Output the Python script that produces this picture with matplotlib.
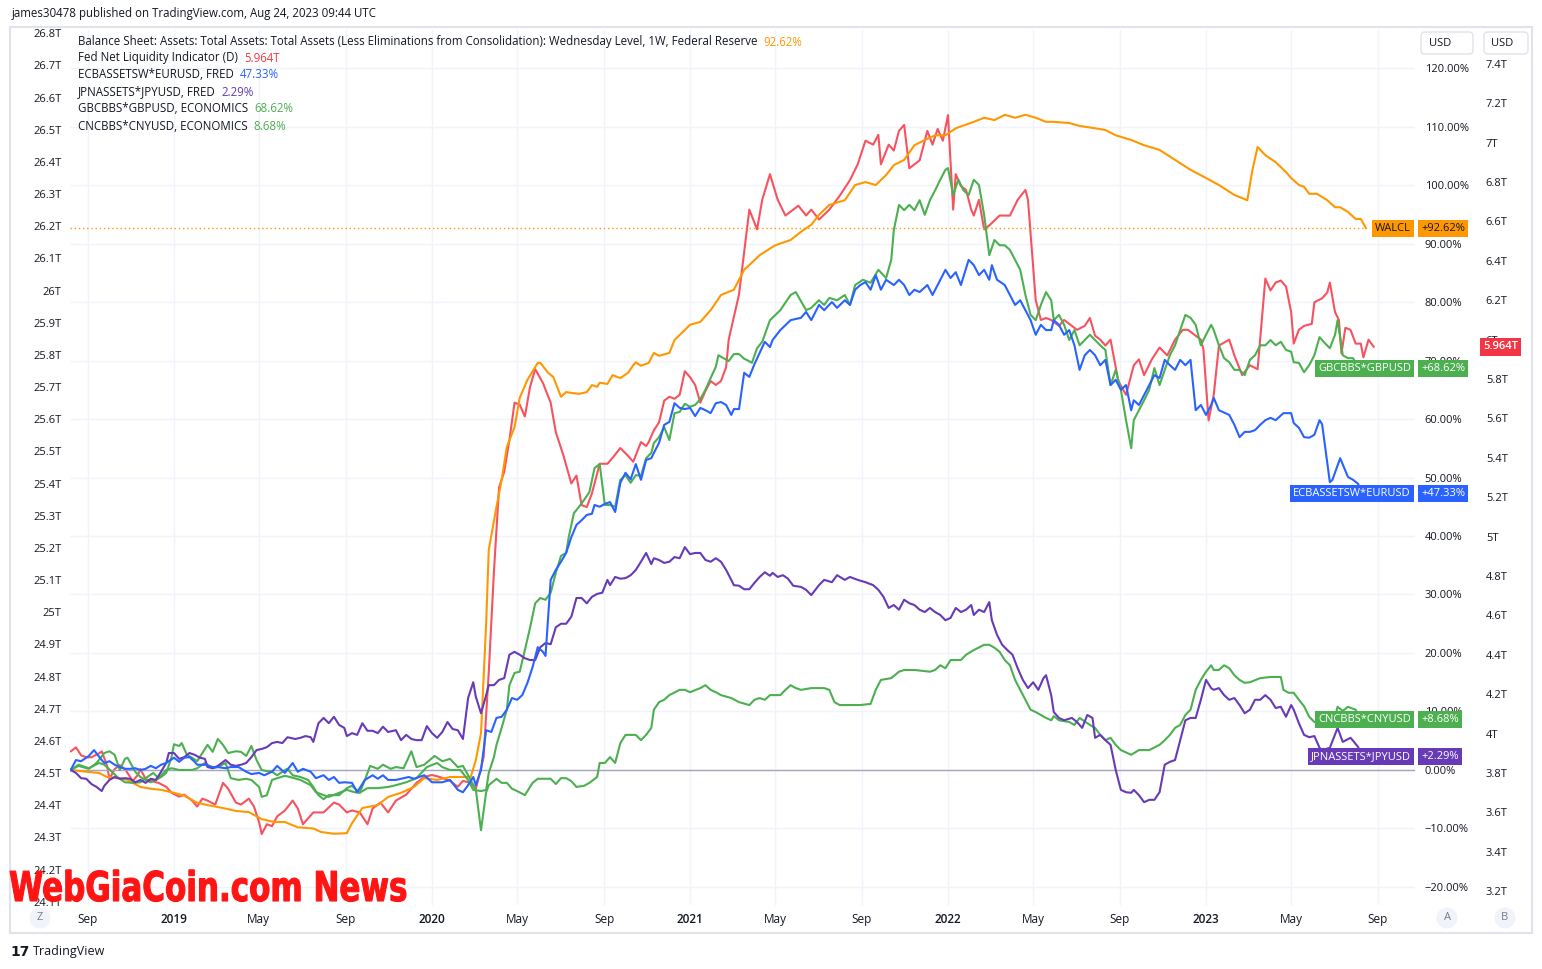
import matplotlib
matplotlib.use("Agg")
import matplotlib.pyplot as plt
import matplotlib.transforms as mtransforms
from matplotlib.patches import Rectangle, FancyBboxPatch, PathPatch
from matplotlib.textpath import TextPath
from matplotlib.font_manager import FontProperties
import numpy as np

plt.rcParams['font.family'] = ['Open Sans', 'DejaVu Sans']
plt.rcParams['axes.unicode_minus'] = True

# ---- data (decimal year, value) ----
# WALCL, % change
walcl = [(2018.60, 0.0), (2018.66, -0.3), (2018.71, -0.5), (2018.74, -1.2), (2018.79, -1.4), (2018.82, -1.7),
         (2018.87, -2.9), (2018.91, -3.2), (2018.95, -3.4), (2019.00, -3.9), (2019.04, -4.4), (2019.09, -5.6),
         (2019.13, -6.0), (2019.19, -6.5), (2019.24, -7.0), (2019.29, -7.2), (2019.34, -8.4), (2019.39, -8.9),
         (2019.43, -8.9), (2019.48, -9.8), (2019.54, -10.0), (2019.57, -10.6), (2019.62, -10.9), (2019.67, -10.8),
         (2019.69, -9.1), (2019.73, -6.5), (2019.79, -6.0), (2019.83, -4.6), (2019.88, -3.9), (2019.93, -2.9),
         (2019.97, -1.4), (2020.02, -1.7), (2020.07, -1.2), (2020.11, -1.2), (2020.15, -1.2), (2020.17, 1.7),
         (2020.19, 6.3), (2020.21, 25.1), (2020.22, 37.6), (2020.25, 45.0), (2020.27, 49.6), (2020.29, 55.2),
         (2020.32, 58.6), (2020.34, 63.6), (2020.37, 66.7), (2020.41, 69.6), (2020.42, 69.6), (2020.45, 67.9),
         (2020.47, 67.2), (2020.50, 63.8), (2020.52, 64.6), (2020.55, 64.4), (2020.57, 64.3), (2020.60, 64.6),
         (2020.62, 65.8), (2020.64, 65.5), (2020.65, 66.2), (2020.68, 66.0), (2020.70, 67.5), (2020.73, 67.0),
         (2020.76, 67.9), (2020.78, 69.2), (2020.79, 69.7), (2020.81, 69.1), (2020.84, 69.6), (2020.86, 71.3),
         (2020.88, 70.8), (2020.92, 71.3), (2020.94, 73.5), (2021.00, 76.1), (2021.04, 76.6), (2021.08, 78.6),
         (2021.12, 81.2), (2021.17, 82.1), (2021.21, 85.5), (2021.27, 88.0), (2021.33, 89.7), (2021.39, 90.6),
         (2021.43, 92.0), (2021.47, 93.2), (2021.50, 94.9), (2021.54, 96.6), (2021.60, 97.4), (2021.64, 100.0),
         (2021.68, 100.5), (2021.72, 100.0), (2021.76, 101.7), (2021.79, 103.4), (2021.83, 104.3), (2021.87, 106.8),
         (2021.91, 107.7), (2021.95, 108.5), (2021.99, 108.5), (2022.03, 109.7), (2022.10, 110.8), (2022.14, 111.5),
         (2022.18, 111.1), (2022.22, 112.0), (2022.26, 111.5), (2022.30, 112.0), (2022.34, 111.5), (2022.38, 110.8),
         (2022.41, 110.8), (2022.47, 110.6), (2022.51, 110.1), (2022.57, 109.7), (2022.61, 109.4), (2022.65, 108.5),
         (2022.71, 107.7), (2022.76, 106.8), (2022.82, 106.0), (2022.88, 104.3), (2022.94, 102.6), (2023.00, 101.2),
         (2023.05, 100.0), (2023.11, 98.3), (2023.16, 97.4), (2023.18, 102.6), (2023.20, 106.5), (2023.23, 105.1),
         (2023.27, 103.9), (2023.31, 102.2), (2023.33, 101.2), (2023.36, 100.0), (2023.38, 99.7), (2023.40, 98.5),
         (2023.43, 98.5), (2023.47, 97.4), (2023.50, 96.2), (2023.52, 96.2), (2023.55, 95.4), (2023.58, 94.2),
         (2023.60, 94.2), (2023.62, 92.62)]

# Fed net liquidity, trillions USD
net_liq = [(2018.60, 3.91), (2018.62, 3.93), (2018.64, 3.89), (2018.66, 3.88), (2018.68, 3.88), (2018.71, 3.90),
           (2018.72, 3.91), (2018.74, 3.84), (2018.75, 3.77), (2018.77, 3.82), (2018.79, 3.84), (2018.81, 3.82),
           (2018.84, 3.76), (2018.86, 3.79), (2018.87, 3.82), (2018.89, 3.77), (2018.91, 3.76), (2018.94, 3.75),
           (2018.97, 3.73), (2018.99, 3.70), (2019.02, 3.68), (2019.04, 3.69), (2019.07, 3.66), (2019.09, 3.63),
           (2019.11, 3.67), (2019.13, 3.66), (2019.16, 3.64), (2019.19, 3.75), (2019.21, 3.72), (2019.24, 3.65),
           (2019.26, 3.64), (2019.29, 3.67), (2019.31, 3.63), (2019.33, 3.55), (2019.34, 3.49), (2019.36, 3.54),
           (2019.38, 3.53), (2019.40, 3.58), (2019.43, 3.61), (2019.46, 3.66), (2019.48, 3.62), (2019.50, 3.54),
           (2019.54, 3.60), (2019.58, 3.60), (2019.62, 3.65), (2019.64, 3.64), (2019.67, 3.60), (2019.69, 3.61),
           (2019.72, 3.60), (2019.75, 3.54), (2019.77, 3.62), (2019.80, 3.65), (2019.83, 3.60), (2019.86, 3.66),
           (2019.90, 3.69), (2019.94, 3.75), (2019.97, 3.78), (2020.00, 3.79), (2020.03, 3.78), (2020.07, 3.76),
           (2020.10, 3.73), (2020.12, 3.76), (2020.15, 3.75), (2020.17, 3.72), (2020.20, 3.88), (2020.22, 4.31),
           (2020.24, 4.82), (2020.26, 5.25), (2020.28, 5.33), (2020.30, 5.49), (2020.32, 5.68), (2020.34, 5.67),
           (2020.36, 5.61), (2020.38, 5.76), (2020.40, 5.85), (2020.43, 5.78), (2020.46, 5.68), (2020.48, 5.53),
           (2020.51, 5.41), (2020.54, 5.27), (2020.56, 5.31), (2020.58, 5.16), (2020.60, 5.15), (2020.62, 5.22),
           (2020.65, 5.37), (2020.68, 5.37), (2020.70, 5.40), (2020.73, 5.45), (2020.76, 5.41), (2020.78, 5.38),
           (2020.81, 5.48), (2020.83, 5.46), (2020.84, 5.48), (2020.86, 5.54), (2020.88, 5.58), (2020.90, 5.69),
           (2020.92, 5.71), (2020.94, 5.70), (2020.96, 5.72), (2020.98, 5.84), (2021.00, 5.81), (2021.02, 5.77),
           (2021.04, 5.68), (2021.06, 5.74), (2021.08, 5.79), (2021.10, 5.77), (2021.12, 5.79), (2021.14, 5.86),
           (2021.15, 6.00), (2021.19, 6.23), (2021.23, 6.66), (2021.26, 6.56), (2021.28, 6.71), (2021.31, 6.84),
           (2021.34, 6.71), (2021.37, 6.63), (2021.40, 6.66), (2021.42, 6.68), (2021.45, 6.63), (2021.47, 6.66),
           (2021.50, 6.61), (2021.54, 6.66), (2021.58, 6.73), (2021.62, 6.81), (2021.65, 6.89), (2021.68, 7.01),
           (2021.71, 6.99), (2021.73, 7.04), (2021.74, 6.89), (2021.77, 6.99), (2021.79, 6.96), (2021.81, 7.06),
           (2021.83, 7.09), (2021.85, 6.87), (2021.87, 6.89), (2021.89, 6.91), (2021.92, 7.06), (2021.94, 6.99),
           (2021.96, 7.07), (2021.98, 7.01), (2022.00, 7.14), (2022.02, 6.66), (2022.03, 6.84), (2022.05, 6.78),
           (2022.07, 6.76), (2022.09, 6.66), (2022.10, 6.63), (2022.12, 6.71), (2022.14, 6.56), (2022.16, 6.58),
           (2022.20, 6.63), (2022.24, 6.63), (2022.27, 6.71), (2022.30, 6.76), (2022.31, 6.71), (2022.34, 6.20),
           (2022.36, 6.10), (2022.38, 6.11), (2022.40, 6.10), (2022.43, 6.07), (2022.45, 6.10), (2022.48, 6.07),
           (2022.50, 6.05), (2022.53, 6.07), (2022.55, 6.11), (2022.57, 6.02), (2022.59, 6.00), (2022.61, 5.97),
           (2022.63, 6.00), (2022.66, 5.79), (2022.69, 5.72), (2022.71, 5.82), (2022.72, 5.87), (2022.74, 5.90),
           (2022.76, 5.82), (2022.79, 5.90), (2022.82, 5.96), (2022.85, 5.92), (2022.88, 6.00), (2022.91, 6.05),
           (2022.93, 6.05), (2022.96, 6.02), (2022.98, 6.00), (2022.99, 5.95), (2023.01, 5.59), (2023.03, 5.72),
           (2023.05, 5.97), (2023.09, 6.00), (2023.11, 5.92), (2023.14, 5.82), (2023.17, 5.87), (2023.20, 5.85),
           (2023.23, 6.31), (2023.25, 6.25), (2023.27, 6.29), (2023.29, 6.30), (2023.31, 6.27), (2023.33, 6.14),
           (2023.34, 5.98), (2023.36, 6.05), (2023.38, 6.07), (2023.41, 6.08), (2023.42, 6.19), (2023.45, 6.21),
           (2023.47, 6.24), (2023.48, 6.29), (2023.50, 6.14), (2023.515, 6.10), (2023.525, 5.93), (2023.54, 6.06),
           (2023.56, 6.05), (2023.58, 5.98), (2023.60, 5.98), (2023.61, 5.91), (2023.63, 6.00), (2023.65, 5.964)]

# ECBASSETSW*EURUSD, % change
ecb = [(2018.60, 0.0), (2018.62, 1.7), (2018.64, 1.5), (2018.67, 2.4), (2018.69, 3.4), (2018.72, 1.7), (2018.73, 1.2),
       (2018.75, 1.5), (2018.77, 0.9), (2018.79, 0.5), (2018.81, 0.2), (2018.83, 0.2), (2018.85, 0.3), (2018.87, 0.0),
       (2018.89, 0.2), (2018.91, 0.7), (2018.93, 0.3), (2018.95, 0.9), (2018.97, 1.2), (2018.98, 1.5), (2019.00, 2.1),
       (2019.02, 1.4), (2019.04, 2.1), (2019.06, 2.2), (2019.08, 1.4), (2019.09, 0.9), (2019.12, 0.9), (2019.15, 0.5),
       (2019.17, 0.5), (2019.20, 0.3), (2019.22, 0.5), (2019.25, 0.5), (2019.28, -0.3), (2019.30, -0.7), (2019.33, -0.5),
       (2019.35, -0.9), (2019.38, -0.3), (2019.40, 0.7), (2019.43, -0.5), (2019.46, 1.2), (2019.48, -0.3), (2019.50, 0.2),
       (2019.53, -0.3), (2019.55, -1.4), (2019.58, -0.9), (2019.60, -1.7), (2019.62, -1.2), (2019.64, -2.2),
       (2019.66, -2.1), (2019.69, -2.2), (2019.71, -3.8), (2019.74, -1.7), (2019.77, -0.9), (2019.79, -1.5),
       (2019.81, -0.9), (2019.83, -1.7), (2019.86, -1.7), (2019.88, -1.5), (2019.91, -1.2), (2019.93, -1.5),
       (2019.95, -1.2), (2019.97, -0.9), (2020.00, -2.1), (2020.04, -2.1), (2020.07, -1.7), (2020.10, -3.4),
       (2020.12, -3.8), (2020.14, -2.6), (2020.16, -1.2), (2020.17, -2.6), (2020.19, 0.0), (2020.21, 6.8),
       (2020.23, 6.5), (2020.25, 8.9), (2020.27, 9.1), (2020.29, 10.3), (2020.31, 12.3), (2020.33, 12.0),
       (2020.35, 12.8), (2020.37, 14.9), (2020.39, 17.6), (2020.41, 21.0), (2020.43, 20.2), (2020.44, 19.5),
       (2020.46, 32.5), (2020.48, 34.2), (2020.50, 35.6), (2020.52, 37.1), (2020.54, 39.8), (2020.56, 41.9),
       (2020.58, 42.7), (2020.60, 43.6), (2020.62, 43.8), (2020.63, 45.3), (2020.65, 45.0), (2020.67, 45.5),
       (2020.69, 45.8), (2020.71, 44.1), (2020.73, 49.1), (2020.75, 50.8), (2020.77, 49.7), (2020.79, 52.3),
       (2020.81, 49.6), (2020.83, 53.0), (2020.85, 53.3), (2020.86, 54.2), (2020.88, 55.9), (2020.90, 59.0),
       (2020.92, 59.5), (2020.94, 62.7), (2020.96, 61.9), (2020.98, 61.7), (2021.00, 61.9), (2021.02, 60.5),
       (2021.04, 61.9), (2021.06, 61.5), (2021.08, 61.0), (2021.10, 62.7), (2021.12, 62.9), (2021.14, 62.4),
       (2021.16, 60.7), (2021.17, 61.7), (2021.19, 61.7), (2021.21, 67.9), (2021.23, 67.2), (2021.25, 69.4),
       (2021.27, 71.3), (2021.29, 73.2), (2021.31, 72.3), (2021.32, 73.5), (2021.35, 75.2), (2021.39, 76.9),
       (2021.43, 77.3), (2021.45, 78.3), (2021.47, 76.9), (2021.50, 79.5), (2021.52, 78.6), (2021.55, 80.0),
       (2021.57, 79.0), (2021.60, 80.3), (2021.62, 79.5), (2021.64, 82.1), (2021.66, 82.9), (2021.68, 83.4),
       (2021.70, 82.1), (2021.72, 84.6), (2021.74, 82.1), (2021.76, 83.8), (2021.79, 82.9), (2021.81, 83.8),
       (2021.83, 82.9), (2021.85, 81.2), (2021.87, 82.1), (2021.89, 81.7), (2021.92, 82.9), (2021.94, 81.2),
       (2021.97, 83.8), (2021.99, 85.5), (2022.01, 84.1), (2022.03, 85.1), (2022.05, 82.9), (2022.08, 87.2),
       (2022.10, 86.3), (2022.12, 84.6), (2022.14, 85.5), (2022.16, 83.8), (2022.17, 86.3), (2022.19, 83.8),
       (2022.22, 82.9), (2022.24, 81.2), (2022.26, 79.5), (2022.28, 80.3), (2022.30, 78.6), (2022.32, 76.9),
       (2022.34, 74.4), (2022.36, 76.1), (2022.38, 75.2), (2022.40, 75.2), (2022.41, 76.9), (2022.43, 76.1),
       (2022.45, 74.4), (2022.47, 75.2), (2022.49, 72.6), (2022.51, 68.4), (2022.53, 70.9), (2022.55, 71.8),
       (2022.57, 70.9), (2022.59, 69.2), (2022.61, 70.1), (2022.63, 65.8), (2022.65, 66.7), (2022.67, 65.0),
       (2022.69, 65.8), (2022.71, 61.5), (2022.72, 63.2), (2022.74, 62.4), (2022.76, 64.1), (2022.78, 65.8),
       (2022.80, 67.5), (2022.82, 67.0), (2022.84, 70.1), (2022.86, 69.2), (2022.88, 68.4), (2022.90, 70.1),
       (2022.92, 69.2), (2022.94, 70.1), (2022.96, 61.5), (2022.98, 62.4), (2023.00, 60.7), (2023.02, 62.4),
       (2023.03, 63.6), (2023.05, 61.5), (2023.09, 60.7), (2023.11, 59.0), (2023.13, 56.9), (2023.15, 57.8),
       (2023.17, 57.8), (2023.19, 58.1), (2023.21, 59.0), (2023.23, 59.8), (2023.25, 60.2), (2023.27, 59.8),
       (2023.30, 61.0), (2023.33, 61.0), (2023.34, 59.3), (2023.36, 58.5), (2023.38, 56.9), (2023.40, 56.8),
       (2023.42, 57.3), (2023.44, 59.8), (2023.45, 59.1), (2023.48, 49.2), (2023.49, 49.6), (2023.52, 53.3),
       (2023.55, 50.1), (2023.57, 49.6), (2023.59, 48.9), (2023.60, 47.33)]

# JPNASSETS*JPYUSD, % change
jpn = [(2018.60, 0.0), (2018.62, -0.5), (2018.64, -1.4), (2018.66, -1.5), (2018.68, -2.4), (2018.70, -2.9),
       (2018.72, -3.6), (2018.73, -2.7), (2018.75, -1.7), (2018.77, -1.2), (2018.79, -1.5), (2018.81, -1.4),
       (2018.83, -1.5), (2018.85, -2.1), (2018.87, -1.7), (2018.89, -2.2), (2018.91, -1.5), (2018.93, -1.7),
       (2018.95, -0.3), (2018.97, 1.2), (2018.98, 2.9), (2019.00, 2.9), (2019.02, 1.9), (2019.04, 2.2), (2019.06, 2.9),
       (2019.08, 2.6), (2019.10, 2.1), (2019.12, 1.9), (2019.13, 0.5), (2019.15, 0.3), (2019.17, 0.7), (2019.20, 1.7),
       (2019.22, 0.9), (2019.24, 0.7), (2019.26, 0.9), (2019.28, 1.2), (2019.30, 2.2), (2019.32, 3.4), (2019.34, 3.6),
       (2019.36, 3.9), (2019.38, 4.6), (2019.40, 4.8), (2019.42, 4.6), (2019.44, 5.6), (2019.47, 5.3), (2019.49, 5.5),
       (2019.51, 5.8), (2019.53, 5.6), (2019.54, 4.8), (2019.56, 8.0), (2019.58, 8.9), (2019.60, 8.0), (2019.62, 9.1),
       (2019.64, 7.7), (2019.66, 7.2), (2019.67, 5.8), (2019.69, 6.3), (2019.71, 6.0), (2019.73, 8.0), (2019.75, 6.7),
       (2019.77, 6.7), (2019.79, 6.3), (2019.81, 7.4), (2019.83, 6.5), (2019.86, 6.8), (2019.88, 5.1), (2019.90, 6.0),
       (2019.92, 5.3), (2019.94, 5.1), (2019.96, 5.1), (2019.98, 7.5), (2020.00, 6.3), (2020.02, 5.5), (2020.04, 6.5),
       (2020.06, 8.2), (2020.08, 7.0), (2020.10, 6.8), (2020.12, 5.3), (2020.14, 12.3), (2020.16, 15.0),
       (2020.17, 12.5), (2020.19, 9.7), (2020.21, 12.8), (2020.22, 14.5), (2020.24, 14.5), (2020.26, 15.4),
       (2020.28, 15.7), (2020.30, 19.7), (2020.32, 20.2), (2020.34, 19.7), (2020.36, 19.1), (2020.38, 18.8),
       (2020.40, 18.8), (2020.42, 21.0), (2020.44, 21.7), (2020.46, 21.5), (2020.48, 24.4), (2020.50, 25.0),
       (2020.52, 25.0), (2020.54, 26.2), (2020.56, 29.4), (2020.58, 29.4), (2020.60, 28.5), (2020.62, 29.6),
       (2020.64, 30.1), (2020.66, 30.3), (2020.68, 32.5), (2020.69, 31.6), (2020.71, 33.0), (2020.73, 32.7),
       (2020.75, 32.8), (2020.77, 33.3), (2020.79, 34.2), (2020.81, 35.6), (2020.83, 37.1), (2020.85, 35.2),
       (2020.86, 36.2), (2020.88, 35.9), (2020.90, 35.4), (2020.92, 35.6), (2020.94, 36.4), (2020.96, 36.2),
       (2020.98, 38.1), (2021.00, 36.9), (2021.02, 37.1), (2021.04, 37.1), (2021.06, 35.9), (2021.08, 35.6),
       (2021.10, 36.2), (2021.12, 35.6), (2021.14, 34.2), (2021.16, 32.5), (2021.17, 31.6), (2021.19, 31.5),
       (2021.21, 30.9), (2021.23, 30.9), (2021.25, 32.0), (2021.27, 33.0), (2021.29, 33.8), (2021.31, 33.2),
       (2021.32, 33.7), (2021.34, 33.0), (2021.36, 33.3), (2021.38, 32.7), (2021.40, 31.5), (2021.43, 31.3),
       (2021.45, 30.8), (2021.47, 29.9), (2021.50, 31.6), (2021.52, 32.5), (2021.55, 32.1), (2021.57, 33.3),
       (2021.60, 32.5), (2021.62, 33.0), (2021.65, 32.5), (2021.68, 32.1), (2021.71, 31.6), (2021.73, 30.8),
       (2021.75, 29.6), (2021.77, 27.7), (2021.79, 28.2), (2021.81, 27.4), (2021.83, 29.1), (2021.85, 28.5),
       (2021.87, 28.2), (2021.89, 27.4), (2021.91, 27.0), (2021.93, 27.7), (2021.95, 27.0), (2021.97, 26.5),
       (2021.99, 25.6), (2022.01, 26.0), (2022.03, 27.7), (2022.05, 27.0), (2022.07, 27.4), (2022.09, 28.2),
       (2022.10, 26.5), (2022.12, 27.4), (2022.14, 27.0), (2022.16, 28.7), (2022.17, 25.6), (2022.19, 23.1),
       (2022.21, 21.4), (2022.23, 20.5), (2022.25, 19.7), (2022.27, 17.4), (2022.29, 15.4), (2022.31, 14.0),
       (2022.33, 15.0), (2022.35, 13.7), (2022.37, 15.7), (2022.38, 16.2), (2022.40, 12.8), (2022.41, 9.9),
       (2022.43, 8.9), (2022.45, 8.5), (2022.48, 8.9), (2022.50, 8.2), (2022.52, 7.2), (2022.54, 9.4), (2022.56, 8.9),
       (2022.57, 5.5), (2022.59, 6.0), (2022.61, 5.1), (2022.63, 4.3), (2022.65, 0.0), (2022.67, -3.4),
       (2022.69, -3.8), (2022.71, -3.9), (2022.72, -3.4), (2022.74, -4.3), (2022.76, -5.5), (2022.78, -5.1),
       (2022.80, -5.1), (2022.82, -3.8), (2022.84, 0.9), (2022.86, 1.4), (2022.88, 1.7), (2022.90, 5.1),
       (2022.92, 8.5), (2022.94, 8.9), (2022.96, 8.9), (2022.98, 12.0), (2023.00, 15.4), (2023.02, 14.0),
       (2023.03, 13.7), (2023.05, 14.0), (2023.07, 12.8), (2023.09, 12.0), (2023.11, 12.3), (2023.13, 11.1),
       (2023.15, 9.7), (2023.17, 10.3), (2023.19, 12.0), (2023.21, 12.0), (2023.23, 12.8), (2023.25, 12.0),
       (2023.27, 10.6), (2023.29, 10.8), (2023.31, 9.1), (2023.33, 11.1), (2023.34, 10.3), (2023.36, 8.0),
       (2023.38, 6.0), (2023.40, 5.6), (2023.42, 5.8), (2023.44, 3.8), (2023.45, 3.4), (2023.48, 3.8), (2023.51, 7.2),
       (2023.53, 4.8), (2023.56, 5.5), (2023.57, 5.0), (2023.59, 3.9), (2023.60, 2.29)]

# GBCBBS*GBPUSD, % change
gb = [(2018.60, 0.0), (2018.63, 0.9), (2018.67, 0.3), (2018.71, 1.2), (2018.73, 0.9), (2018.76, -0.3), (2018.78, -1.2),
      (2018.81, -2.1), (2018.84, -2.2), (2018.87, -2.1), (2018.89, -1.4), (2018.92, -0.5), (2018.94, -1.4),
      (2018.97, 0.0), (2018.99, 0.3), (2019.02, 0.0), (2019.07, 0.0), (2019.09, 0.3), (2019.12, 1.2), (2019.15, 0.3),
      (2019.17, 0.5), (2019.20, 1.2), (2019.22, -1.4), (2019.25, -1.7), (2019.28, -1.5), (2019.30, -1.7),
      (2019.33, -2.9), (2019.34, -4.6), (2019.36, -4.3), (2019.38, -1.7), (2019.40, -1.4), (2019.43, -1.0),
      (2019.45, -1.2), (2019.49, -1.7), (2019.53, -2.6), (2019.55, -3.8), (2019.58, -4.3), (2019.60, -4.6),
      (2019.64, -3.9), (2019.67, -3.4), (2019.70, -3.8), (2019.72, -3.9), (2019.75, -3.1), (2019.79, -3.1),
      (2019.83, -2.9), (2019.86, -2.6), (2019.90, -2.1), (2019.94, -1.4), (2019.98, 0.5), (2020.02, 1.2),
      (2020.04, 0.5), (2020.07, 0.0), (2020.11, 0.0), (2020.14, -1.7), (2020.16, -3.4), (2020.19, -3.6),
      (2020.21, -3.4), (2020.22, -0.5), (2020.24, 2.2), (2020.25, 4.3), (2020.27, 7.2), (2020.29, 10.3),
      (2020.30, 14.5), (2020.32, 16.6), (2020.34, 16.8), (2020.36, 20.5), (2020.38, 24.3), (2020.40, 28.5),
      (2020.42, 29.4), (2020.44, 29.1), (2020.46, 30.3), (2020.48, 33.7), (2020.50, 36.6), (2020.52, 37.1),
      (2020.53, 39.8), (2020.55, 43.9), (2020.57, 45.0), (2020.59, 46.2), (2020.61, 47.5), (2020.63, 51.6),
      (2020.65, 52.3), (2020.67, 45.3), (2020.69, 45.3), (2020.71, 45.0), (2020.73, 49.6), (2020.75, 50.4),
      (2020.77, 49.1), (2020.79, 50.4), (2020.81, 50.3), (2020.83, 53.3), (2020.85, 54.2), (2020.86, 55.9),
      (2020.88, 56.9), (2020.90, 58.6), (2020.92, 56.4), (2020.94, 61.0), (2020.96, 61.2), (2020.98, 62.6),
      (2021.00, 62.1), (2021.02, 62.4), (2021.04, 63.4), (2021.06, 65.0), (2021.08, 67.0), (2021.10, 68.9),
      (2021.11, 70.9), (2021.13, 70.4), (2021.15, 69.9), (2021.17, 71.1), (2021.19, 71.1), (2021.21, 70.3),
      (2021.22, 70.1), (2021.24, 69.6), (2021.26, 72.1), (2021.28, 73.2), (2021.31, 76.9), (2021.35, 78.6),
      (2021.39, 81.2), (2021.41, 81.7), (2021.45, 78.6), (2021.47, 79.0), (2021.50, 80.3), (2021.52, 79.5),
      (2021.54, 80.7), (2021.57, 80.3), (2021.60, 81.2), (2021.62, 79.5), (2021.64, 82.9), (2021.67, 83.8),
      (2021.70, 83.3), (2021.73, 85.5), (2021.76, 84.1), (2021.78, 87.2), (2021.79, 92.3), (2021.81, 96.6),
      (2021.83, 95.7), (2021.85, 96.6), (2021.87, 95.7), (2021.89, 97.4), (2021.91, 94.9), (2021.93, 97.4),
      (2021.95, 99.1), (2021.97, 100.9), (2021.99, 102.6), (2022.00, 102.9), (2022.02, 98.3), (2022.04, 100.9),
      (2022.06, 99.1), (2022.08, 98.3), (2022.10, 100.9), (2022.12, 100.0), (2022.14, 94.9), (2022.16, 88.0),
      (2022.18, 90.6), (2022.20, 89.7), (2022.22, 89.7), (2022.24, 88.9), (2022.26, 87.2), (2022.28, 85.5),
      (2022.30, 81.2), (2022.32, 77.8), (2022.34, 76.9), (2022.36, 79.5), (2022.38, 81.7), (2022.40, 80.3),
      (2022.41, 76.9), (2022.43, 77.8), (2022.45, 76.1), (2022.47, 73.5), (2022.49, 75.2), (2022.51, 72.6),
      (2022.53, 73.5), (2022.55, 74.4), (2022.57, 73.5), (2022.59, 72.6), (2022.61, 71.8), (2022.63, 65.8),
      (2022.65, 68.4), (2022.67, 65.0), (2022.69, 59.8), (2022.71, 55.0), (2022.72, 59.8), (2022.74, 61.5),
      (2022.76, 63.2), (2022.78, 65.0), (2022.80, 68.7), (2022.82, 65.8), (2022.84, 68.4), (2022.86, 70.9),
      (2022.88, 72.6), (2022.90, 75.2), (2022.92, 77.8), (2022.94, 77.3), (2022.96, 76.1), (2022.98, 72.6),
      (2023.00, 74.4), (2023.02, 76.1), (2023.03, 75.2), (2023.05, 72.6), (2023.07, 70.4), (2023.09, 69.7),
      (2023.11, 68.4), (2023.13, 68.4), (2023.15, 67.5), (2023.17, 70.1), (2023.19, 70.9), (2023.21, 72.6),
      (2023.23, 72.6), (2023.25, 73.5), (2023.27, 72.6), (2023.29, 73.2), (2023.31, 71.8), (2023.33, 71.5),
      (2023.34, 69.7), (2023.36, 69.6), (2023.38, 68.0), (2023.40, 69.2), (2023.42, 70.9), (2023.44, 74.0),
      (2023.46, 73.0), (2023.48, 72.1), (2023.50, 74.4), (2023.51, 76.9), (2023.53, 70.9), (2023.55, 70.4),
      (2023.57, 70.4), (2023.59, 68.62)]

# CNCBBS*CNYUSD, % change
cn = [(2018.60, 0.0), (2018.63, 0.7), (2018.67, 0.2), (2018.70, 1.2), (2018.73, 2.9), (2018.75, 3.2), (2018.77, 2.6),
      (2018.79, 0.0), (2018.81, 1.9), (2018.82, 2.1), (2018.85, -0.3), (2018.87, -1.2), (2018.89, -1.7),
      (2018.91, -2.1), (2018.93, -1.7), (2018.95, -1.2), (2018.97, -0.5), (2018.99, 2.1), (2019.00, 4.4),
      (2019.02, 4.1), (2019.03, 4.6), (2019.05, 2.6), (2019.07, 2.1), (2019.09, 1.5), (2019.11, 2.9), (2019.13, 4.3),
      (2019.15, 3.1), (2019.17, 5.3), (2019.19, 4.3), (2019.21, 2.9), (2019.24, 3.2), (2019.26, 3.1), (2019.28, 2.4),
      (2019.30, 4.1), (2019.32, 1.7), (2019.34, 0.0), (2019.36, -0.2), (2019.38, -0.3), (2019.40, -0.9),
      (2019.43, 0.0), (2019.44, 0.2), (2019.46, -0.9), (2019.49, -1.2), (2019.52, -1.7), (2019.54, -2.9),
      (2019.56, -4.3), (2019.58, -5.0), (2019.60, -4.3), (2019.64, -4.3), (2019.67, -3.1), (2019.69, -2.7),
      (2019.72, -3.9), (2019.74, -1.7), (2019.76, 0.7), (2019.79, 0.2), (2019.81, 0.9), (2019.84, 0.2),
      (2019.86, 0.5), (2019.89, 0.3), (2019.92, 3.2), (2019.94, 0.5), (2019.97, 0.9), (2020.01, 2.4), (2020.04, 1.5),
      (2020.07, 1.9), (2020.10, 0.5), (2020.12, 0.7), (2020.15, -1.7), (2020.17, -3.4), (2020.19, -10.3),
      (2020.21, -3.8), (2020.22, -2.6), (2020.25, -1.5), (2020.27, -2.2), (2020.29, -2.2), (2020.31, -3.2),
      (2020.33, -3.6), (2020.36, -4.3), (2020.39, -2.2), (2020.41, -1.5), (2020.44, -1.5), (2020.46, -1.5),
      (2020.48, -2.4), (2020.50, -1.4), (2020.52, -1.4), (2020.54, -1.9), (2020.56, -2.9), (2020.59, -2.7),
      (2020.61, -2.2), (2020.64, -1.2), (2020.65, 1.2), (2020.67, 1.2), (2020.69, 2.2), (2020.71, 1.2),
      (2020.73, 4.6), (2020.75, 6.0), (2020.79, 6.0), (2020.81, 5.1), (2020.83, 6.0), (2020.85, 7.2),
      (2020.86, 10.3), (2020.88, 11.6), (2020.90, 12.0), (2020.92, 12.8), (2020.96, 13.7), (2020.98, 13.7),
      (2021.00, 13.3), (2021.04, 14.0), (2021.06, 14.5), (2021.08, 13.7), (2021.10, 13.3), (2021.12, 12.8),
      (2021.16, 12.3), (2021.19, 11.6), (2021.23, 11.1), (2021.25, 12.0), (2021.27, 12.3), (2021.29, 12.0),
      (2021.31, 12.8), (2021.35, 12.8), (2021.37, 13.7), (2021.39, 14.5), (2021.41, 14.0), (2021.43, 13.7),
      (2021.47, 14.0), (2021.52, 14.0), (2021.54, 13.7), (2021.56, 11.6), (2021.58, 11.1), (2021.62, 11.1),
      (2021.66, 11.1), (2021.70, 11.3), (2021.72, 13.7), (2021.74, 15.4), (2021.78, 15.7), (2021.81, 16.8),
      (2021.83, 17.1), (2021.87, 17.1), (2021.93, 16.8), (2021.95, 17.1), (2021.97, 17.9), (2021.99, 17.4),
      (2022.01, 18.8), (2022.05, 18.8), (2022.07, 19.7), (2022.10, 20.5), (2022.14, 21.4), (2022.16, 21.4),
      (2022.18, 20.9), (2022.20, 20.2), (2022.22, 18.8), (2022.24, 17.9), (2022.26, 15.4), (2022.28, 13.7),
      (2022.30, 12.0), (2022.32, 10.3), (2022.34, 9.9), (2022.36, 9.4), (2022.38, 8.9), (2022.40, 8.5),
      (2022.41, 9.2), (2022.43, 8.5), (2022.47, 8.2), (2022.49, 7.7), (2022.51, 8.9), (2022.55, 7.7), (2022.57, 7.2),
      (2022.59, 6.0), (2022.61, 5.1), (2022.63, 5.5), (2022.65, 4.3), (2022.67, 3.4), (2022.71, 2.6), (2022.74, 3.4),
      (2022.78, 3.4), (2022.82, 4.3), (2022.84, 5.1), (2022.86, 6.0), (2022.88, 7.2), (2022.90, 7.7), (2022.92, 9.4),
      (2022.94, 10.3), (2022.96, 13.7), (2022.98, 15.4), (2023.00, 16.8), (2023.02, 17.9), (2023.03, 17.1),
      (2023.05, 17.1), (2023.07, 17.9), (2023.09, 17.4), (2023.11, 16.2), (2023.13, 15.4), (2023.15, 14.9),
      (2023.17, 15.0), (2023.21, 15.7), (2023.25, 15.9), (2023.29, 15.9), (2023.30, 13.7), (2023.32, 13.2),
      (2023.34, 13.2), (2023.36, 12.0), (2023.38, 10.9), (2023.40, 9.1), (2023.42, 8.2), (2023.45, 7.9),
      (2023.47, 7.9), (2023.50, 9.1), (2023.51, 10.8), (2023.53, 10.1), (2023.55, 10.8), (2023.58, 10.3),
      (2023.60, 8.68)]

pct_ticks = list(range(-20, 130, 10))
b_ticks = [round(3.2 + 0.2 * i, 1) for i in range(22)]
left_ticks = [round(24.1 + 0.1 * i, 1) for i in range(28)]
month_ticks = [2018.666, 2019.0, 2019.329, 2019.666, 2020.0, 2020.331, 2020.667, 2021.0, 2021.329, 2021.666,
               2022.0, 2022.329, 2022.666, 2023.0, 2023.329, 2023.666]
month_labels = ["Sep", "2019", "May", "Sep", "2020", "May", "Sep", "2021", "May", "Sep",
                "2022", "May", "Sep", "2023", "May", "Sep"]

legend_rows = [
    ("Balance Sheet: Assets: Total Assets: Total Assets (Less Eliminations from Consolidation): Wednesday Level, 1W, Federal Reserve", "92.62%", "#FF9800"),
    ("Fed Net Liquidity Indicator (D)", "5.964T", "#F23645"),
    ("ECBASSETSW*EURUSD, FRED", "47.33%", "#2962FF"),
    ("JPNASSETS*JPYUSD, FRED", "2.29%", "#673AB7"),
    ("GBCBBS*GBPUSD, ECONOMICS", "68.62%", "#4CAF50"),
    ("CNCBBS*CNYUSD, ECONOMICS", "8.68%", "#4CAF50"),
]

TXT = "#131722"
GRID = "#f0f3fa"
W, H = 1542, 969

fig = plt.figure(figsize=(W / 100, H / 100), dpi=100)
fig.patch.set_facecolor("white")


def fx(x):
    return x / W


def fy(y):
    return 1 - y / H


L, R, T, B = 70, 1415, 30, 905
ax = fig.add_axes([fx(L), fy(B), fx(R) - fx(L), fy(T) - fy(B)])
ax_l = ax.twinx()
ax_b = ax.twinx()
ax_l.set_zorder(0)
ax_b.set_zorder(1)
ax.set_zorder(2)
ax.patch.set_visible(False)
ax_b.patch.set_visible(False)

x0, x1 = 2018.597, 2023.81
ax.set_xlim(x0, x1)
ax.set_ylim(-23.08, 126.5)
ax_b.set_ylim(3.130, 7.572)
ax_l.set_ylim(24.090, 26.810)

for a in (ax, ax_l, ax_b):
    for s in a.spines.values():
        s.set_visible(False)

# grid in the bottom layer
ax_l.hlines(pct_ticks, x0, x1, colors=GRID, lw=1, transform=ax.transData)
for t in month_ticks:
    ax_l.axvline(t, color=GRID, lw=1)

# ticks
ax.yaxis.tick_right()
ax.set_yticks(pct_ticks)
ax.set_yticklabels([f"{v:.2f}%".replace("-", "\u2212") for v in pct_ticks])
ax.tick_params(axis="y", length=0, pad=7, labelsize=8, labelcolor=TXT)

ax_b.set_yticks(b_ticks)
ax_b.set_yticklabels([f"{v:g}T" for v in b_ticks])
ax_b.tick_params(axis="y", length=0, pad=51, labelsize=8, labelcolor=TXT)

ax_l.yaxis.tick_left()
ax_l.set_yticks(left_ticks)
ax_l.set_yticklabels([f"{v:g}T" for v in left_ticks])
ax_l.tick_params(axis="y", length=0, pad=6, labelsize=8, labelcolor=TXT)

ax.set_xticks(month_ticks)
ax.set_xticklabels(month_labels)
ax.tick_params(axis="x", length=0, pad=6, labelsize=8.5, labelcolor=TXT)
for lab in ax.get_xticklabels():
    if lab.get_text().isdigit():
        lab.set_fontweight("semibold")

# series
lw = 1.5
t, v = np.array(net_liq).T
ax_b.plot(t, v, color="#F7525F", lw=lw)

ax.axhline(0, color="#a4a6be", lw=1, zorder=1)
t, v = np.array(walcl).T
ax.hlines(v[-1], x0, t[-1], colors="#FF9800", linestyles=(0, (1, 2)), lw=1)
ax.plot(t, v, color="#FF9800", lw=lw)
for data, col in [(cn, "#4CAF50"), (gb, "#4CAF50"), (jpn, "#673AB7"), (ecb, "#2962FF")]:
    t, v = np.array(data).T
    ax.plot(t, v, color=col, lw=lw)

# price tags on the right
tr = mtransforms.blended_transform_factory(ax.transAxes, ax.transData)
name_tr = mtransforms.offset_copy(tr, fig=fig, x=-4, y=0, units="dots")
val_tr = mtransforms.offset_copy(tr, fig=fig, x=6, y=0, units="dots")
tags = [("WALCL", "+92.62%", 92.62, "#FF9800", TXT),
        ("GBCBBS*GBPUSD", "+68.62%", 68.62, "#4CAF50", "white"),
        ("ECBASSETSW*EURUSD", "+47.33%", 47.33, "#2962FF", "white"),
        ("CNCBBS*CNYUSD", "+8.68%", 8.68, "#4CAF50", "white"),
        ("JPNASSETS*JPYUSD", "+2.29%", 2.29, "#673AB7", "white")]
for name, val, y, col, tc in tags:
    box = dict(boxstyle="square,pad=0.28", fc=col, ec="none")
    ax.text(1.0, y, name, transform=name_tr, ha="right", va="center", fontsize=8, color=tc,
            bbox=box, clip_on=False, zorder=10)
    ax.text(1.0, y, val, transform=val_tr, ha="left", va="center", fontsize=8, color=tc,
            bbox=box, clip_on=False, zorder=10)

trb = mtransforms.offset_copy(mtransforms.blended_transform_factory(ax_b.transAxes, ax_b.transData),
                              fig=fig, x=68, y=0, units="dots")
ax_b.text(1.0, 5.964, "5.964T", transform=trb, ha="left", va="center", fontsize=8, color="white",
          fontweight="semibold", bbox=dict(boxstyle="square,pad=0.3", fc="#F23645", ec="none"),
          clip_on=False, zorder=10)

# legend rows, top left
fig.canvas.draw()
renderer = fig.canvas.get_renderer()
for i, (name, val, col) in enumerate(legend_rows):
    y = [42, 58, 75, 92, 109, 126][i]
    tx = fig.text(fx(78), fy(y), name, fontsize=8.3, color=TXT, va="center", ha="left")
    bb = tx.get_window_extent(renderer)
    fig.text((bb.x1 + 6) / W, fy(y), val, fontsize=8.3, color=col, va="center", ha="left")

# header / frame / footer
fig.text(fx(12), fy(14), "james30478 published on TradingView.com, Aug 24, 2023 09:44 UTC",
         fontsize=8.3, color=TXT, va="center", ha="left")
px = mtransforms.IdentityTransform()
fig.add_artist(Rectangle((10, H - 933), 1522, 906, fill=False, ec="#e0e3eb", lw=1.5, transform=px))
for bx, bw, tx_x in [(1421, 52, 1440), (1484, 44, 1502)]:
    fig.add_artist(FancyBboxPatch((bx, H - 54), bw, 22, boxstyle="round,pad=0,rounding_size=4",
                                  fc="white", ec="#e0e3eb", lw=1, transform=px, zorder=20))
    fig.text(fx(tx_x), fy(43), "USD", fontsize=8, color=TXT, ha="center", va="center", zorder=21)
for cx, s in [(40, "Z"), (1447, "A"), (1505, "B")]:
    fig.text(fx(cx), fy(918), s, fontsize=8, color="#787b86", ha="center", va="center",
             bbox=dict(boxstyle="circle,pad=0.45", fc="#f0f3fa", ec="none"))

fig.text(fx(10), fy(952), "17", fontsize=10, fontweight="heavy", color=TXT, va="center", ha="left",
         family=["DejaVu Sans"])
fig.text(fx(33), fy(951), "TradingView", fontsize=9, color=TXT, va="center", ha="left")

# watermark: bold text squeezed horizontally
wm = TextPath((0, 0), "WebGiaCoin.com News", size=41,
              prop=FontProperties(family="DejaVu Sans", weight="bold"))
wb = wm.get_extents()
sx = 396 / wb.width
wm_tr = mtransforms.Affine2D().translate(-wb.x0, 0).scale(sx, 1.0).translate(10, H - 901)
fig.add_artist(PathPatch(wm, transform=wm_tr + px, fc="#FF1414", ec="#FF1414", lw=0.8, zorder=30))

fig.savefig("out.png", dpi=100, facecolor="white")
